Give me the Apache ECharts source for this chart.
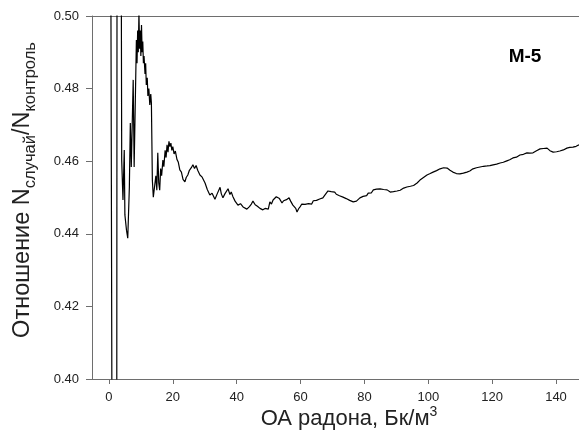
<!DOCTYPE html>
<html>
<head>
<meta charset="utf-8">
<script src="https://cdn.jsdelivr.net/npm/echarts@6/dist/echarts.min.js"></script>
<style>
html,body{margin:0;padding:0;background:#fff;}
#chart{width:579px;height:439px;}
</style>
</head>
<body>
<div id="chart"></div>
<script>
// Radon volumetric activity (Bq/m3)
var radonX = [
  0.3, 1.2, 1.6, 2.4, 2.6, 3.6, 4.0, 4.4, 4.8, 5.0, 5.5, 5.9, 6.4, 6.7, 7.0, 7.6, 7.9,
  8.6, 8.8, 9.0, 9.2, 9.4, 9.6, 9.8, 10.0, 10.2, 10.4, 10.6, 10.8, 11.0, 11.3, 11.5, 11.7,
  12.0, 12.2, 12.5, 12.8, 13.1, 13.3, 13.6, 13.9,
  14.4, 14.7, 15.0, 15.3, 15.6, 15.9, 16.2, 16.5, 16.9, 17.2, 17.6, 17.9, 18.2, 18.5, 18.8,
  19.1, 19.4, 19.7, 20.0, 20.4, 20.8, 21.3, 21.7, 22.2, 22.7, 23.2, 23.8, 24.2, 24.7, 25.2,
  25.8, 26.3, 26.8, 27.3, 27.8, 28.5, 29.2, 30.1, 30.8, 31.6, 32.3, 33.2, 33.9, 34.3, 34.8,
  35.2, 35.7, 36.3, 36.8, 37.3, 37.9, 38.3, 38.8, 39.5, 40.4, 41.2, 42.0, 43.2, 44.0, 44.6,
  45.1, 45.8, 46.5, 47.3, 48.2, 48.9,
  49.4, 49.9, 50.4, 50.9, 51.4, 51.9, 52.4, 52.9, 53.4, 53.8, 54.2, 54.7, 55.1, 55.6, 56.0,
  56.4, 56.9, 57.3, 57.6, 58.1, 58.5, 58.9, 59.4, 59.9, 60.4, 60.9, 61.4, 62.0, 62.5, 63.0,
  63.5, 64.0, 64.5, 65.0, 65.5, 66.0, 66.5, 67.0, 67.5, 68.0, 68.6, 69.1, 69.6, 70.2, 70.7,
  71.2, 71.7, 72.2, 72.8, 73.3, 73.8, 74.3, 74.9, 75.4, 76.0, 76.5, 77.0, 77.5, 78.0, 78.6,
  79.1, 79.6, 80.2, 80.7, 81.2, 81.7, 82.2, 82.8, 83.3, 83.8, 84.4, 84.9, 85.5, 86.0, 86.6,
  87.1, 87.6, 88.1, 88.6, 89.1, 89.7, 90.2, 90.7, 91.2, 91.8, 92.3, 92.8, 93.3, 93.8, 94.4,
  94.9, 95.4, 96.0, 96.5, 97.0, 97.4, 97.9, 98.5, 99.0, 99.6, 100.1, 100.6, 101.0, 101.5,
  102.1, 102.6, 103.2, 103.7, 104.2, 104.8, 105.3, 105.9, 106.4, 106.8, 107.3, 107.7, 108.3,
  108.8, 109.4, 109.9, 110.5, 111.0, 111.6, 112.1, 112.6, 113.0, 113.5, 114.0, 114.6, 115.1,
  115.7, 116.2, 116.7, 117.3, 117.8, 118.4, 118.9, 119.3, 119.8, 120.3, 120.9, 121.4, 122.0,
  122.5, 123.0, 123.5, 124.1, 124.6, 125.1, 125.5, 126.0, 126.5, 127.1, 127.6, 128.2, 128.7,
  129.3, 129.8, 130.4, 130.9, 131.4, 131.8, 132.3, 132.8, 133.4, 133.9, 134.5, 135.0, 135.6,
  136.1, 136.7, 137.2, 137.7, 138.1, 138.6, 139.1, 139.7, 140.2, 140.7, 141.2, 141.8, 142.3,
  142.9, 143.4, 143.9, 144.3, 144.8, 145.3, 145.8, 146.3, 146.8, 147.2
];
// Ratio N_case / N_control
var ratioY = [
  0.620, 0.300, 0.300, 0.300, 0.620, 0.620, 0.4603, 0.4493, 0.4631, 0.4452, 0.4410, 0.4388, 0.4529, 0.4705, 0.4584, 0.4824, 0.4584,
  0.4934, 0.4870, 0.4960, 0.4900, 0.5010, 0.4910, 0.4960, 0.4890, 0.4975, 0.4900, 0.4930, 0.4870, 0.4890, 0.4840, 0.4870, 0.4810,
  0.4830, 0.4780, 0.4800, 0.4755, 0.4785, 0.4760, 0.4548, 0.4501,
  0.4499, 0.4560, 0.4520, 0.4623, 0.4540, 0.4520, 0.4580, 0.4560, 0.4603, 0.4585, 0.4630, 0.4610, 0.4645, 0.4625, 0.4655,
  0.4640, 0.4650, 0.4630, 0.4640, 0.4620, 0.4628, 0.4605, 0.4598, 0.4576, 0.4570, 0.4550, 0.4543, 0.4555, 0.4562, 0.4575,
  0.4582, 0.4590, 0.4580, 0.4588, 0.4575, 0.4562, 0.4556, 0.4540, 0.4522, 0.4507, 0.4512, 0.4495, 0.4510, 0.4505, 0.4528,
  0.4510, 0.4499, 0.4510, 0.4506, 0.4524, 0.4508, 0.4515, 0.4503, 0.4490, 0.4479, 0.4483, 0.4474, 0.4468, 0.4475, 0.4482,
  0.4490, 0.4480, 0.4476, 0.4470, 0.4466, 0.4470,
  0.4474, 0.4468, 0.4488, 0.4482, 0.4493, 0.4489, 0.4502, 0.4507, 0.4497, 0.4492, 0.4485, 0.4491, 0.4488, 0.4494, 0.4491,
  0.4499, 0.4490, 0.4485, 0.4479, 0.4474, 0.4470, 0.4460, 0.4469, 0.4475, 0.4482, 0.4477, 0.4481, 0.4477, 0.4483, 0.4485,
  0.4482, 0.4491, 0.4496, 0.4492, 0.4490, 0.4496, 0.4493, 0.4499, 0.4505, 0.4510, 0.4518, 0.4513, 0.4516, 0.4512, 0.4515,
  0.4509, 0.4510, 0.4505, 0.4507, 0.4501, 0.4503, 0.4497, 0.4496, 0.4492, 0.4494, 0.4488, 0.4485, 0.4490, 0.4494, 0.4499,
  0.4496, 0.4503, 0.4507, 0.4505, 0.4512, 0.4515, 0.4513, 0.4521, 0.4526, 0.4523, 0.4528, 0.4524, 0.4526, 0.4522, 0.4525,
  0.4521, 0.4517, 0.4515, 0.4512, 0.4516, 0.4514, 0.4518, 0.4515, 0.4520, 0.4521, 0.4526, 0.4523, 0.4529, 0.4526, 0.4531,
  0.4529, 0.4533, 0.4536, 0.4540, 0.4543, 0.4548, 0.4550, 0.4555, 0.4557, 0.4562, 0.4560, 0.4566, 0.4565, 0.4570,
  0.4568, 0.4574, 0.4573, 0.4579, 0.4577, 0.4582, 0.4579, 0.4581, 0.4578, 0.4575, 0.4573, 0.4570, 0.4568,
  0.4566, 0.4567, 0.4565, 0.4569, 0.4567, 0.4572, 0.4570, 0.4574, 0.4573, 0.4578, 0.4579, 0.4577, 0.4582,
  0.4580, 0.4584, 0.4582, 0.4586, 0.4584, 0.4587, 0.4591, 0.4588, 0.4592, 0.4590, 0.4594, 0.4592, 0.4596,
  0.4595, 0.4599, 0.4597, 0.4602, 0.4601, 0.4605, 0.4604, 0.4608, 0.4609, 0.4613, 0.4611, 0.4616, 0.4617,
  0.4620, 0.4619, 0.4624, 0.4623, 0.4626, 0.4622, 0.4625, 0.4623, 0.4628, 0.4629, 0.4633, 0.4634, 0.4637,
  0.4635, 0.4638, 0.4636, 0.4633, 0.4629, 0.4626, 0.4625, 0.4628, 0.4626, 0.4630, 0.4628, 0.4632, 0.4631,
  0.4635, 0.4636, 0.4634, 0.4638, 0.4637, 0.4639, 0.4643, 0.4641, 0.4645, 0.4645
];
var xTicks = [0, 20, 40, 60, 80, 100, 120, 140];

var points = radonX.map(function (x, i) { return [x, ratioY[i]]; });

var chart = echarts.init(document.getElementById('chart'), null, {renderer: 'canvas'});
var axisColor = '#6e6e6e';
var font = 'Arial, "Liberation Sans", sans-serif';

chart.setOption({
  animation: false,
  backgroundColor: '#ffffff',
  grid: {left: 92, top: 16, right: 0, bottom: 60, containLabel: false},
  xAxis: [{
    type: 'value',
    min: -5.3,
    max: 147.2,
    axisLine: {show: true, onZero: false, lineStyle: {color: axisColor, width: 1}},
    axisTick: {show: true, inside: false, length: 5, customValues: xTicks, lineStyle: {color: axisColor}},
    axisLabel: {show: true, customValues: xTicks, margin: 12, color: '#222', fontSize: 13, fontFamily: font},
    splitLine: {show: false}
  }, {
    type: 'value',
    position: 'top',
    min: -5.3,
    max: 147.2,
    axisLine: {show: true, onZero: false, lineStyle: {color: axisColor, width: 1}},
    axisTick: {show: false},
    axisLabel: {show: false},
    splitLine: {show: false}
  }],
  yAxis: {
    type: 'value',
    min: 0.40,
    max: 0.50,
    interval: 0.02,
    axisLine: {show: true, onZero: false, lineStyle: {color: axisColor, width: 1}},
    axisTick: {show: true, length: 6, lineStyle: {color: axisColor}},
    axisLabel: {margin: 13, color: '#222', fontSize: 13, fontFamily: font,
      formatter: function (v) { return v.toFixed(2); }},
    splitLine: {show: false}
  },
  series: [{
    type: 'line',
    data: points,
    showSymbol: false,
    symbol: 'none',
    clip: true,
    lineStyle: {color: '#000', width: 1.2},
    xAxisIndex: 0
  }],
  graphic: [{
    type: 'text',
    x: 525, y: 57,
    style: {text: 'M-5', font: 'bold 19px Arial, "Liberation Sans", sans-serif', fill: '#000',
      align: 'center', verticalAlign: 'middle'}
  }, {
    type: 'text',
    x: 349, y: 419,
    style: {
      text: '{m|ОА радона, Бк/м}{s|3}',
      align: 'center', verticalAlign: 'middle',
      rich: {
        m: {fontSize: 22, fontFamily: font, fill: '#222', color: '#222', lineHeight: 27},
        s: {fontSize: 14, fontFamily: font, fill: '#222', color: '#222', lineHeight: 14, verticalAlign: 'top'}
      }
    }
  }, {
    type: 'text',
    x: 23, y: 190,
    rotation: Math.PI / 2,
    style: {
      text: '{m|Отношение N}{s|случай}{m|/N}{s|контроль}',
      align: 'center', verticalAlign: 'middle',
      rich: {
        m: {fontSize: 23.5, fontFamily: font, fill: '#222', color: '#222', lineHeight: 32},
        s: {fontSize: 16.5, fontFamily: font, fill: '#222', color: '#222', lineHeight: 12, verticalAlign: 'bottom'}
      }
    }
  }]
});
</script>
</body>
</html>
